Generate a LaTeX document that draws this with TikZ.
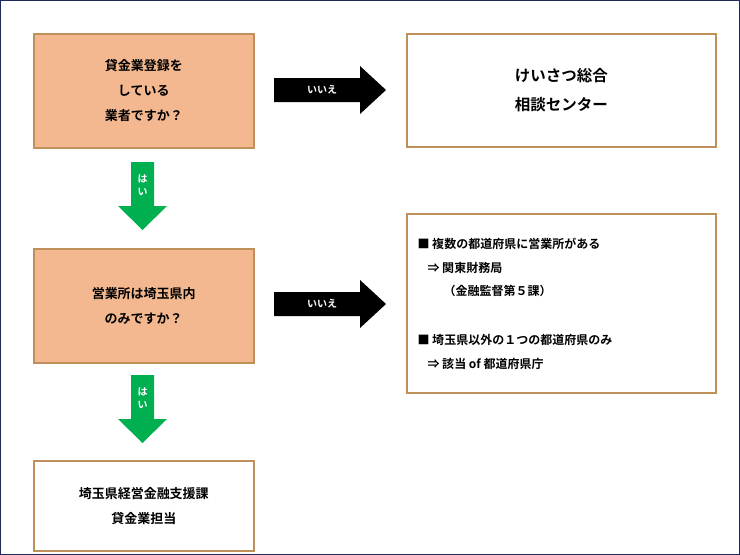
\documentclass[tikz,border=0pt]{standalone}
\usepackage{fontspec}
\setmainfont{Noto Sans CJK JP}[BoldFont={Noto Sans CJK JP Bold}]
\definecolor{salmon}{HTML}{F4B891}
\definecolor{brd}{HTML}{C0905A}
\definecolor{grn}{HTML}{00B050}
\definecolor{navy}{HTML}{1F2A5C}
\begin{document}
\begin{tikzpicture}[x=1pt,y=-1pt,
  box/.style={draw=brd,line width=1.5pt,inner sep=0pt,anchor=north west},
  t/.style={font=\bfseries\fontsize{13}{13}\selectfont,align=center},
  lt/.style={font=\bfseries\fontsize{12}{12}\selectfont,align=left,anchor=north west}]
\useasboundingbox (0,0) rectangle (740,555);
\draw[navy,line width=1pt] (0.5,0.5) rectangle (739.5,554.5);
% boxes
\node[box,fill=salmon,minimum width=220pt,minimum height=114pt] (q1) at (33,33) {};
\node[t,line width=0,inner sep=0] at (q1.center) {貸金業登録を\\[12pt]している\\[12pt]業者ですか？};
\node[box,minimum width=309pt,minimum height=113pt] (r1) at (406,33) {};
\node[font=\bfseries\fontsize{15.5}{15.5}\selectfont,align=center] at (r1.center) {けいさつ総合\\[14pt]相談センター};
\node[box,fill=salmon,minimum width=220pt,minimum height=114pt] (q2) at (33,248) {};
\node[t] at (q2.center) {営業所は埼玉県内\\[12pt]のみですか？};
\node[box,minimum width=309pt,minimum height=179pt] (r2) at (406,213) {};
\node[lt] (l1) at (414,235) {■ 複数の都道府県に営業所がある};
\node[lt] (l2) at (424,259) {⇒ 関東財務局};
\node[lt] (l3) at (440,282) {（金融監督第５課）};
\node[lt] (l4) at (414,331) {■ 埼玉県以外の１つの都道府県のみ};
\node[lt] (l5) at (424,355) {⇒ 該当 of 都道府県庁};
\node[box,minimum width=220pt,minimum height=90pt] (a) at (33,460) {};
\node[t] at (a.center) {埼玉県経営金融支援課\\[12pt]貸金業担当};
% black arrows
\fill (274,78) -- (360,78) -- (360,66) -- (386,90) -- (360,114) -- (360,102) -- (274,102) -- cycle;
\node[white,font=\bfseries\fontsize{10}{10}\selectfont] (y1) at (322,90) {いいえ};
\fill (274,292) -- (360,292) -- (360,280) -- (386,304) -- (360,328) -- (360,316) -- (274,316) -- cycle;
\node[white,font=\bfseries\fontsize{10}{10}\selectfont] (y2) at (322,304) {いいえ};
% green arrows
\fill[grn] (131,162) -- (154,162) -- (154,206) -- (167,206) -- (142.5,230) -- (118,206) -- (131,206) -- cycle;
\node[white,font=\bfseries\fontsize{10}{10}\selectfont,align=center] (h1) at (142.5,185) {は\\[3pt]い};
\fill[grn] (131,375) -- (154,375) -- (154,419) -- (167,419) -- (142.5,443) -- (118,419) -- (131,419) -- cycle;
\node[white,font=\bfseries\fontsize{10}{10}\selectfont,align=center] (h2) at (142.5,398) {は\\[3pt]い};
\end{tikzpicture}
\end{document}
